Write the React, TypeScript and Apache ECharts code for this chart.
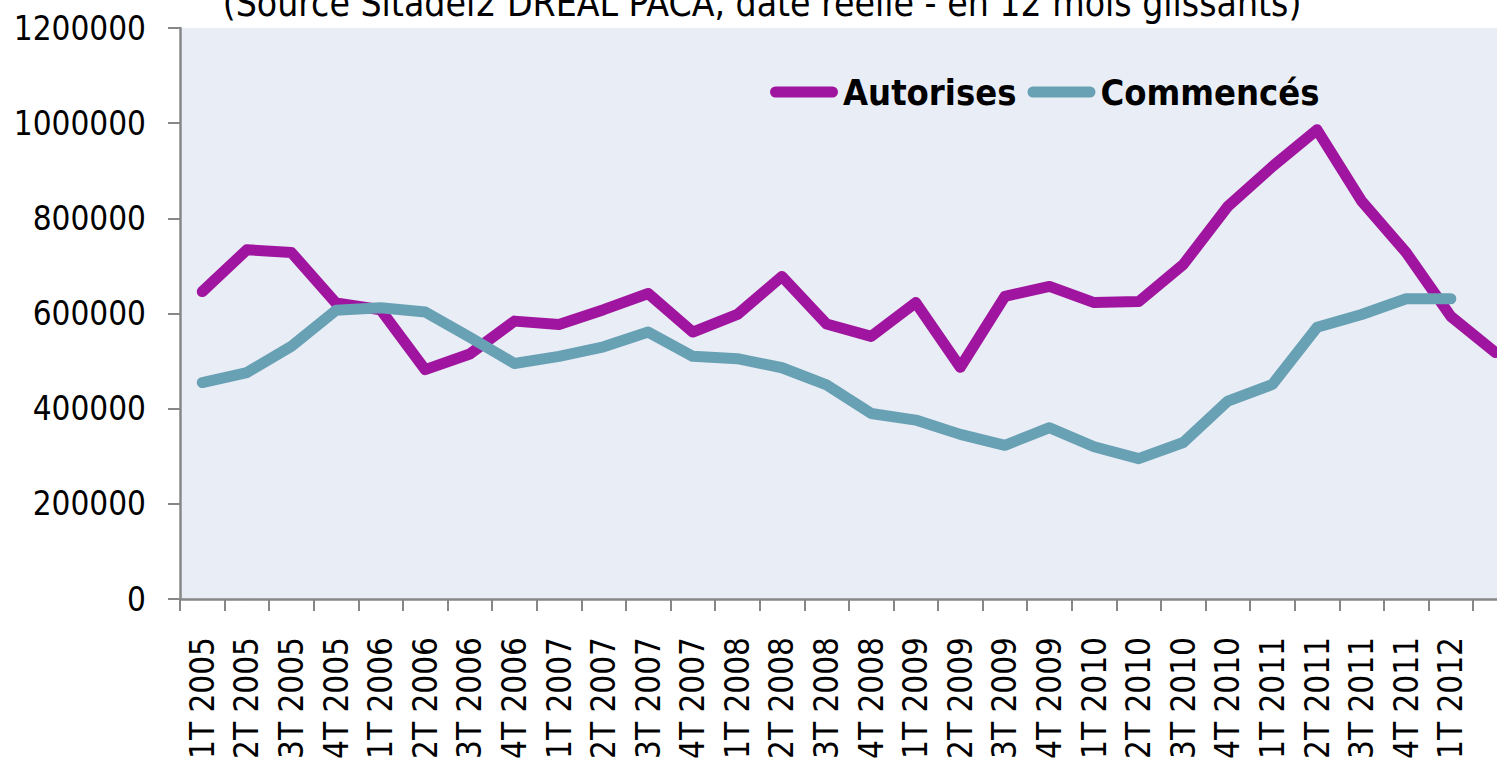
import React, { useEffect, useRef } from "react";
import * as echarts from "echarts";

const categories = [
  "1T 2005", "2T 2005", "3T 2005", "4T 2005",
  "1T 2006", "2T 2006", "3T 2006", "4T 2006",
  "1T 2007", "2T 2007", "3T 2007", "4T 2007",
  "1T 2008", "2T 2008", "3T 2008", "4T 2008",
  "1T 2009", "2T 2009", "3T 2009", "4T 2009",
  "1T 2010", "2T 2010", "3T 2010", "4T 2010",
  "1T 2011", "2T 2011", "3T 2011", "4T 2011",
  "1T 2012", "2T 2012",
];

const autorises = [
  646000, 734000, 728000, 622000,
  608000, 482000, 515000, 584000,
  577000, 608000, 642000, 561000,
  598000, 678000, 578000, 552000,
  623000, 487000, 636000, 657000,
  623000, 625000, 703000, 825000,
  909000, 986000, 836000, 728000,
  594000, 518000,
];

const commences: (number | null)[] = [
  455000, 476000, 531000, 607000,
  612000, 603000, 550000, 495000,
  510000, 530000, 561000, 510000,
  505000, 486000, 450000, 390000,
  376000, 346000, 323000, 360000,
  320000, 295000, 329000, 416000,
  451000, 571000, 598000, 631000,
  631000, null,
];

const yTicks = { min: 0, max: 1200000, interval: 200000 };

const titleText = "(Source Sitadel2 DREAL PACA, date réelle - en 12 mois glissants)";

const FONT = "'DejaVu Sans Condensed', 'Liberation Sans Narrow', 'DejaVu Sans', sans-serif";

export default function App() {
  const ref = useRef<HTMLDivElement>(null);

  useEffect(() => {
    if (!ref.current) return;
    const chart = echarts.init(ref.current, undefined, { renderer: "svg" });
    const lastIndex = categories.length - 1;
    chart.setOption({
      animation: false,
      backgroundColor: "#ffffff",
      textStyle: { fontFamily: FONT },
      graphic: [
        {
          type: "text",
          x: 762,
          y: 3,
          style: {
            text: titleText,
            fontFamily: FONT,
            fontSize: 37,
            fill: "#000000",
            align: "center",
            verticalAlign: "middle",
          },
        },
      ],
      legend: {
        left: 770,
        top: 74,
        padding: 0,
        itemWidth: 68,
        itemHeight: 11,
        itemGap: 11,
        icon: "path://M5.5,0 L62.5,0 A5.5,5.5 0 0 1 62.5,11 L5.5,11 A5.5,5.5 0 0 1 5.5,0 Z",
        textStyle: {
          fontFamily: FONT,
          fontWeight: "bold",
          fontSize: 36,
          color: "#000000",
        },
        data: ["Autorises", "Commencés"],
      },
      grid: {
        left: 180,
        top: 28,
        width: 1337.7,
        height: 572,
        show: true,
        backgroundColor: "#E9EDF5",
        borderWidth: 0,
      },
      xAxis: {
        type: "category",
        data: categories,
        boundaryGap: true,
        axisLine: { show: true, lineStyle: { color: "#878787", width: 2.5 } },
        axisTick: { show: true, length: 12, interval: 0, alignWithLabel: false, lineStyle: { color: "#878787", width: 2 } },
        axisLabel: {
          rotate: 90,
          margin: 38,
          interval: (index: number) => index !== lastIndex,
          fontFamily: FONT,
          fontSize: 33,
          color: "#000000",
        },
        splitLine: { show: false },
      },
      yAxis: {
        type: "value",
        min: yTicks.min,
        max: yTicks.max,
        interval: yTicks.interval,
        axisLine: { show: true, lineStyle: { color: "#878787", width: 2.5 } },
        axisTick: { show: true, length: 12, lineStyle: { color: "#878787", width: 2 } },
        axisLabel: {
          margin: 34,
          fontFamily: FONT,
          fontSize: 33,
          color: "#000000",
          formatter: (v: number) => String(v),
        },
        splitLine: { show: false },
      },
      series: [
        {
          name: "Autorises",
          type: "line",
          data: autorises,
          symbol: "none",
          lineStyle: { color: "#A0159F", width: 11, cap: "round", join: "round" },
          itemStyle: { color: "#A0159F" },
        },
        {
          name: "Commencés",
          type: "line",
          data: commences,
          symbol: "none",
          lineStyle: { color: "#68A0B4", width: 11, cap: "round", join: "round" },
          itemStyle: { color: "#68A0B4" },
        },
      ],
    });
    return () => chart.dispose();
  }, []);

  return (
    <div style={{ position: "fixed", left: 0, top: 0, width: 1497, height: 762, overflow: "hidden", background: "#fff" }}>
      <div ref={ref} style={{ width: 1540, height: 762 }} />
    </div>
  );
}
